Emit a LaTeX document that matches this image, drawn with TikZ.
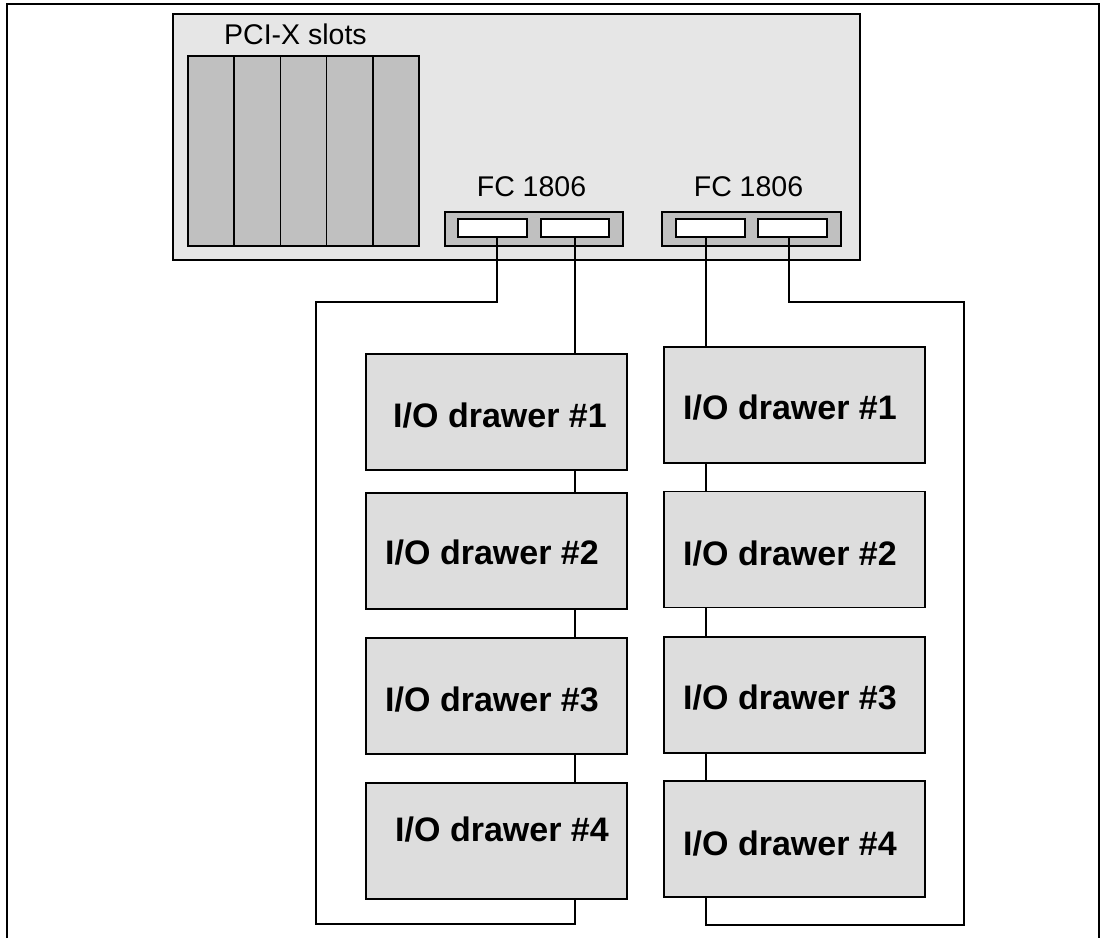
\documentclass[tikz,border=0pt]{standalone}
\usepackage{fontspec}
\setmainfont{Liberation Sans}
\definecolor{srvfill}{RGB}{230,230,230}
\definecolor{slotfill}{RGB}{192,192,192}
\definecolor{drwfill}{RGB}{221,221,221}
\begin{document}
\begin{tikzpicture}[x=1pt,y=-1pt,
  boxed/.style={draw=black, line width=1.5pt, rectangle, inner sep=0pt, outer sep=0pt},
  server/.style={boxed, fill=srvfill, minimum width=687pt, minimum height=246pt},
  slot/.style={boxed, fill=slotfill, minimum width=46.2pt, minimum height=190pt},
  adapter/.style={boxed, fill=slotfill, minimum width=178pt, minimum height=34pt},
  port/.style={boxed, fill=white, minimum width=69pt, minimum height=18pt},
  drawer/.style={boxed, fill=drwfill, minimum width=261pt, minimum height=116pt},
  cable/.style={draw=black, line width=1.5pt},
  lbl/.style={anchor=base, inner sep=0pt, font=\fontsize{28.5}{32}\selectfont},
  dlbl/.style={anchor=base, inner sep=0pt, font=\fontsize{34}{40}\selectfont\bfseries},
  frame/.style={draw=black, line width=1.8pt}
]
\useasboundingbox (0,0) rectangle (1101,938);
% outer frame
\coordinate (fbl) at (7,938);
\coordinate (ftl) at (7,4);
\coordinate (ftr) at (1099,4);
\coordinate (fbr) at (1099,938);
\draw[frame] (fbl) -- (ftl) -- (ftr) -- (fbr);

% server
\node[server] (srv) at (516.5,137) {};
\node[lbl] (pcitxt) at (295.5,44) {PCI-X slots};
\foreach \i/\x in {1/211.1,2/257.3,3/303.5,4/349.7,5/395.9}
  \node[slot] (s\i) at (\x,151) {};

\node[adapter] (adA) at (534,229) {};
\node[adapter, minimum width=179pt] (adB) at (751.5,229) {};
\node[lbl] (fcA) at (531.5,196) {FC 1806};
\node[lbl] (fcB) at (748.5,196) {FC 1806};
\node[port] (p1) at (492.5,228) {};
\node[port, minimum width=68pt] (p2) at (575,228) {};
\node[port] (p3) at (710.5,228) {};
\node[port] (p4) at (792.5,228) {};

% drawers
\foreach \i/\y in {1/412,2/551,3/696,4/841}
  \node[drawer] (L\i) at (496.5,\y) {};
\foreach \i/\y in {1/405,2/549.5,3/695,4/839}
  \node[drawer] (R\i) at (794.5,\y) {};

\node[dlbl] (tL1) at (500,427) {I/O drawer \#1};
\node[dlbl] (tL2) at (492,564) {I/O drawer \#2};
\node[dlbl] (tL3) at (492,711) {I/O drawer \#3};
\node[dlbl] (tL4) at (502,841) {I/O drawer \#4};
\node[dlbl] (tR1) at (790,419) {I/O drawer \#1};
\node[dlbl] (tR2) at (790,565) {I/O drawer \#2};
\node[dlbl] (tR3) at (790,709) {I/O drawer \#3};
\node[dlbl] (tR4) at (790,855) {I/O drawer \#4};

% cable routing coordinates
\coordinate (xa) at (497,0);
\coordinate (xL) at (575,0);
\coordinate (xR) at (706,0);
\coordinate (xb) at (789,0);
\coordinate (a1) at (497,302);
\coordinate (a2) at (316,302);
\coordinate (a3) at (316,924);
\coordinate (a4) at (575,924);
\coordinate (b1) at (789,302);
\coordinate (b2) at (964,302);
\coordinate (b3) at (964,925);
\coordinate (b4) at (706,925);

% cables
\draw[cable] (p1.south -| xa) -- (a1) -- (a2) -- (a3) -- (a4) -- (L4.south -| xL);
\draw[cable] (p2.south -| xL) -- (L1.north -| xL);
\draw[cable] (L1.south -| xL) -- (L2.north -| xL);
\draw[cable] (L2.south -| xL) -- (L3.north -| xL);
\draw[cable] (L3.south -| xL) -- (L4.north -| xL);
\draw[cable] (p3.south -| xR) -- (R1.north -| xR);
\draw[cable] (R1.south -| xR) -- (R2.north -| xR);
\draw[cable] (R2.south -| xR) -- (R3.north -| xR);
\draw[cable] (R3.south -| xR) -- (R4.north -| xR);
\draw[cable] (p4.south -| xb) -- (b1) -- (b2) -- (b3) -- (b4) -- (R4.south -| xR);
\end{tikzpicture}
\end{document}
